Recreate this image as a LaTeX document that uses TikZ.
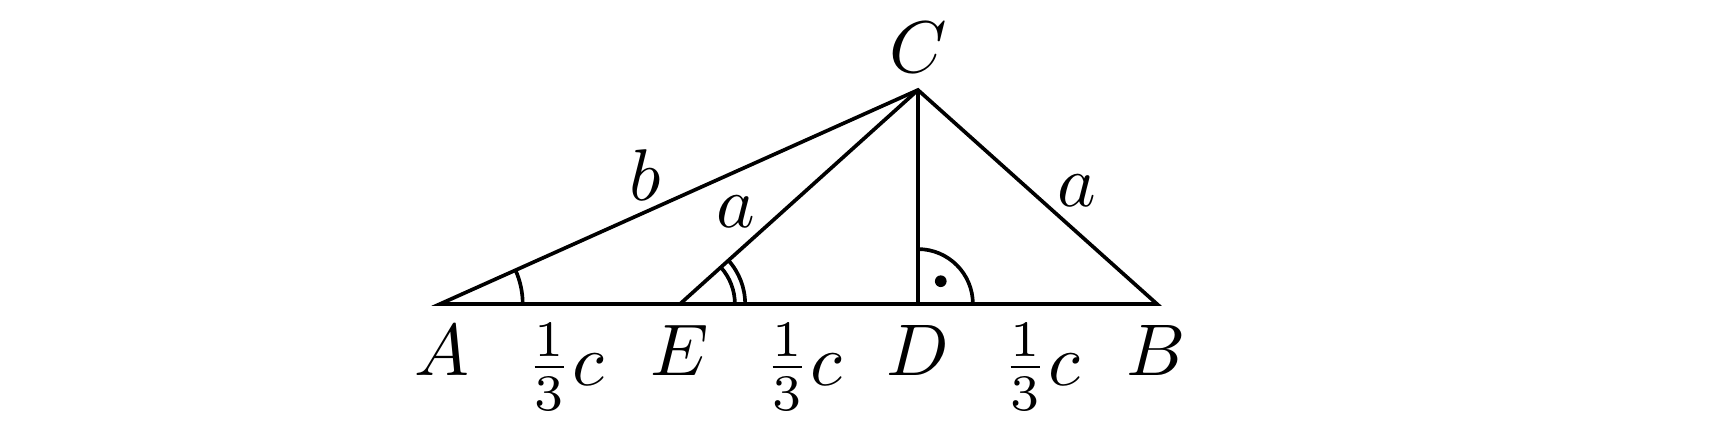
\documentclass[tikz,border=0pt]{standalone}
\usetikzlibrary{angles,calc}
\begin{document}
\begin{tikzpicture}[x=0.1366pt,y=-0.1366pt,
  edge/.style={line width=0.5pt,line join=miter},
  mark angle/.style={draw,line width=0.5pt},
  lbl/.style={inner sep=0pt}]
\useasboundingbox (0,0) rectangle (1736,429);
\coordinate (A) at (440,304);
\coordinate (E) at (680,304);
\coordinate (D) at (918,304);
\coordinate (B) at (1157,304);
\coordinate (C) at (918,90);
\draw[edge] (A) -- (B) -- (C) -- cycle;
\draw[edge] (E) -- (C);
\draw[edge] (D) -- (C);
\pic[mark angle,angle radius=11.3pt] {angle=B--A--C};
\pic[mark angle,angle radius=7.5pt] {angle=B--E--C};
\pic[mark angle,angle radius=8.9pt] {angle=B--E--C};
\pic[mark angle,angle radius=7.5pt] {angle=B--D--C};
\fill ($(D)+(45:4.4pt)$) circle (0.8pt);
\node[lbl] (lC) at (918,47) {$C$};
\node[lbl] (lA) at (442,350) {$A$};
\node[lbl] (lE) at (680,350) {$E$};
\node[lbl] (lD) at (918,350) {$D$};
\node[lbl] (lB) at (1156,350) {$B$};
\node[lbl] (f1) at (565,367) {$\frac{1}{3}c$};
\node[lbl] (f2) at (803,367) {$\frac{1}{3}c$};
\node[lbl] (f3) at (1041,367) {$\frac{1}{3}c$};
\node[lbl] (lb) at (645,175) {$b$};
\node[lbl] (la1) at (736,212) {$a$};
\node[lbl] (la2) at (1077,191) {$a$};
\end{tikzpicture}
\end{document}
